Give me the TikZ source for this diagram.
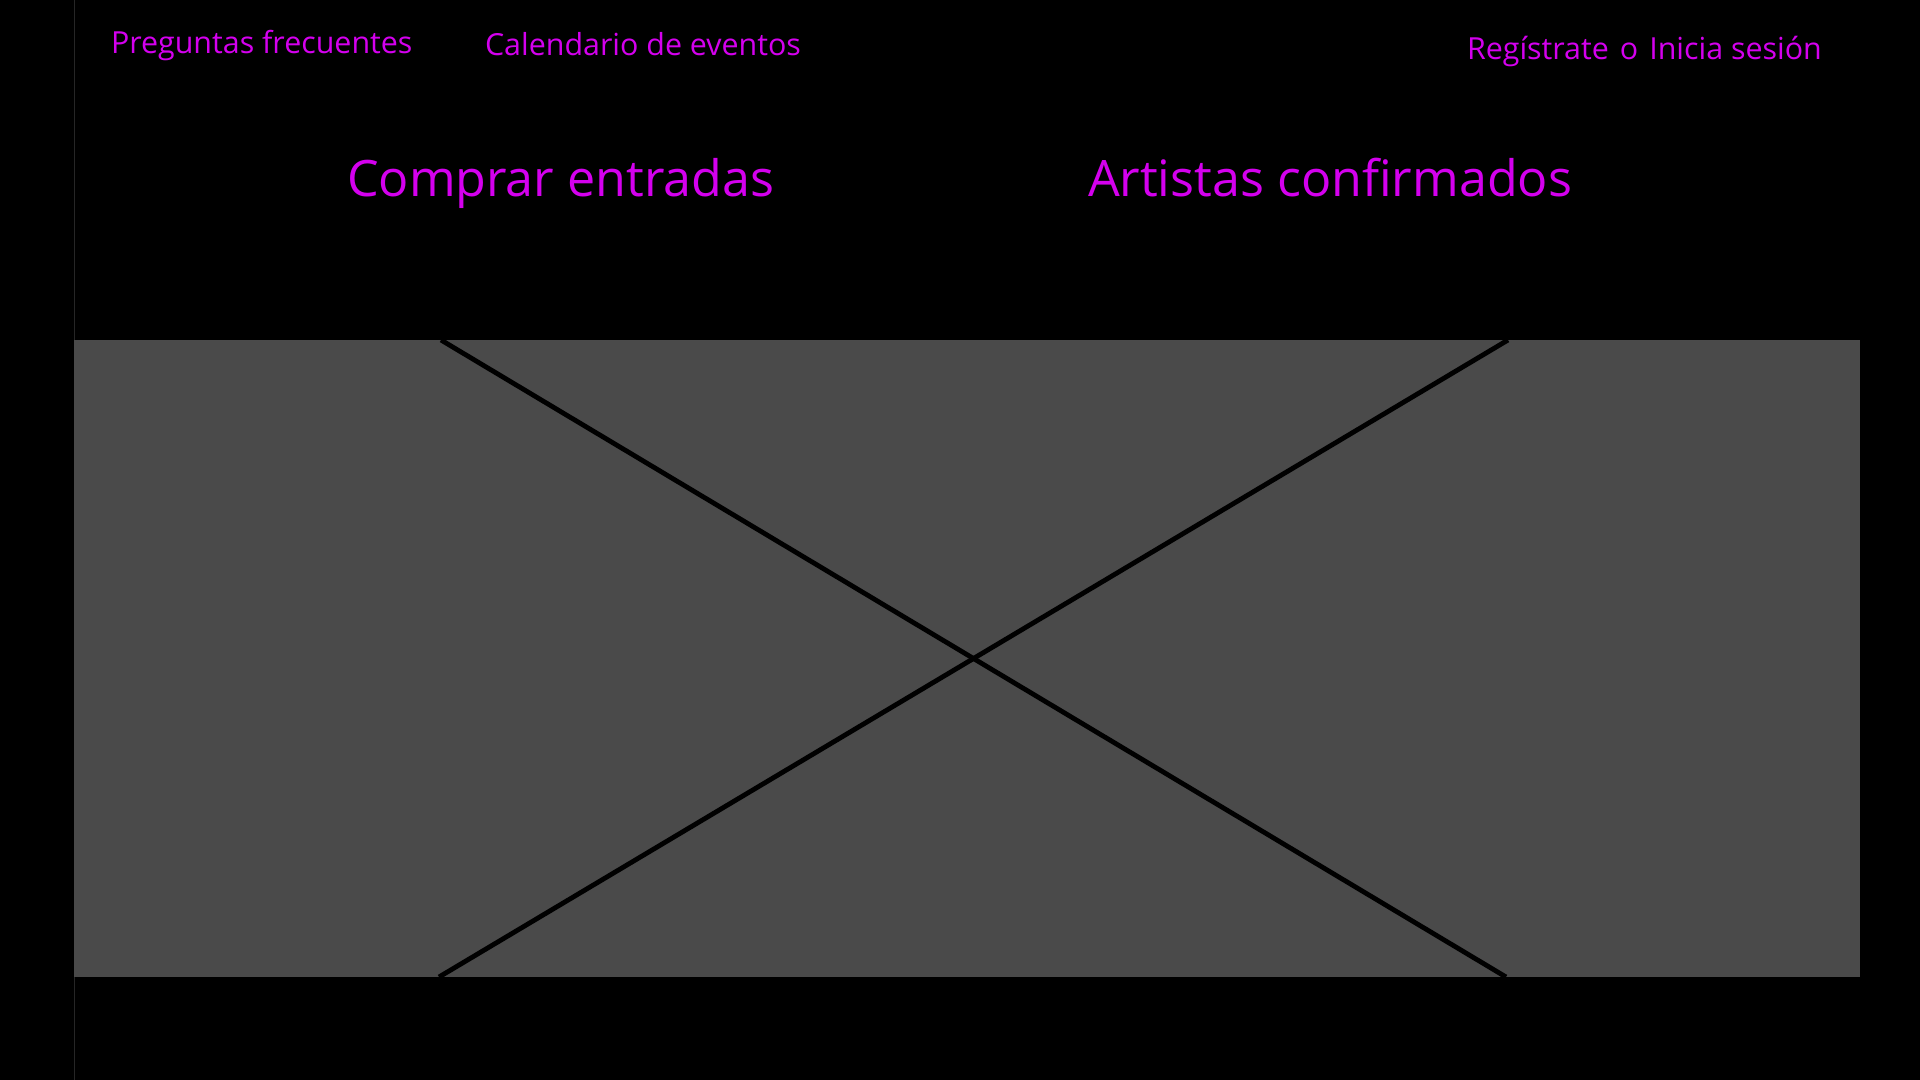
\documentclass[tikz,border=0pt]{standalone}
\usepackage{fontspec}
\setmainfont{Open Sans}
\usetikzlibrary{positioning}

\definecolor{linkpink}{RGB}{212,0,238}
\definecolor{bannergray}{RGB}{74,74,74}

\begin{document}
\begin{tikzpicture}[
			x=0.5pt, y=-0.5pt,
			every node/.style={inner sep=0pt, outer sep=0pt},
			navlink/.style={text=linkpink, font=\fontsize{15.2}{18}\selectfont, anchor=base west},
			heading/.style={text=linkpink, font=\fontsize{25.1}{30}\selectfont, anchor=base west},
			banner/.style={fill=bannergray, minimum width=893.25pt, minimum height=318.5pt, anchor=north west},
			cross/.style={line width=2.4pt, black}
		]

		\fill[black] (0,0) rectangle (1920,1080);
		\useasboundingbox (0,0) rectangle (1920,1080);
		\draw[black!85!white, line width=0.5pt] (74.5,0) -- (74.5,1080);

		% top links
		\node (faq) [navlink] at (111,54) {Preguntas frecuentes};
		\node (calendar) [navlink] at (485,56) {Calendario de eventos};
		\node (signup) [navlink] at (1467,60) {Regístrate};
		\node (or) [navlink, right=5.5pt of signup.base east, anchor=base west] {o};
		\node (login) [navlink, right=5.5pt of or.base east, anchor=base west] {Inicia sesión};

		% headings
		\node (tickets) [heading] at (347,197) {Comprar entradas};
		\node (artists) [heading] at (1088,197) {Artistas confirmados};

		% image placeholder
		\node (hero) [banner] at (73.5,340) {};
		\coordinate (tl) at (441,340);
		\coordinate (tr) at (1508,340);
		\coordinate (bl) at (439,977);
		\coordinate (br) at (1506,977);
		\draw[cross] (tl) -- (br);
		\draw[cross] (bl) -- (tr);
	\end{tikzpicture}
\end{document}
